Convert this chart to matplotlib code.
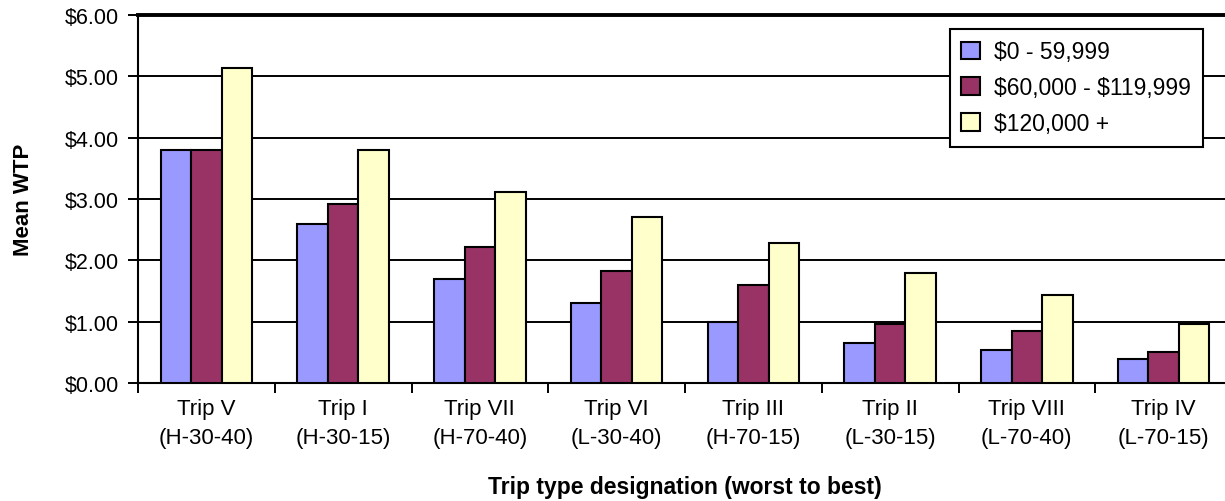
import matplotlib

matplotlib.use("Agg")
import matplotlib.pyplot as plt
import numpy as np
from matplotlib.ticker import FixedLocator, FuncFormatter

plt.rcParams["font.family"] = ["Liberation Sans", "DejaVu Sans"]

trips = ["Trip V", "Trip I", "Trip VII", "Trip VI", "Trip III", "Trip II", "Trip VIII", "Trip IV"]
codes = ["(H-30-40)", "(H-30-15)", "(H-70-40)", "(L-30-40)", "(H-70-15)", "(L-30-15)", "(L-70-40)", "(L-70-15)"]
series = ["$0 - 59,999", "$60,000 - $119,999", "$120,000 +"]
low_income = [3.80, 2.60, 1.70, 1.31, 1.00, 0.66, 0.54, 0.39]
mid_income = [3.80, 2.92, 2.21, 1.82, 1.60, 0.96, 0.85, 0.51]
high_income = [5.13, 3.80, 3.11, 2.71, 2.29, 1.79, 1.44, 0.96]
colors = ["#9999FF", "#993366", "#FFFFCC"]

W, H = 1225, 502
fig = plt.figure(figsize=(W / 100, H / 100), dpi=100)
# axes runs slightly past the right edge of the figure
ax = fig.add_axes([138 / W, (H - 384) / H, (1232 - 138) / W, (384 - 16) / H])

x = np.arange(len(trips))
bw = 0.223
for i, (vals, col, name) in enumerate(zip([low_income, mid_income, high_income], colors, series)):
    ax.bar(x + (i - 1) * bw, vals, width=bw, color=col, edgecolor="black",
           linewidth=1.5, label=name, zorder=3)

ax.set_xlim(-0.5, len(trips) - 0.5)
ax.set_ylim(0, 6)
ax.set_yticks(np.arange(0, 7, 1))
ax.yaxis.set_major_formatter(FuncFormatter(lambda v, _: f"${v:.2f}"))
ax.yaxis.grid(True, color="black", linewidth=1.4, zorder=0)
ax.set_axisbelow(True)
ax.tick_params(axis="y", direction="out", length=7, width=1.4, labelsize=15.5, pad=7)

ax.set_xticks(x)
ax.set_xticklabels([f"{t}\n{c}" for t, c in zip(trips, codes)], fontsize=16, linespacing=1.5)
ax.tick_params(axis="x", which="major", length=0, pad=11)
ax.xaxis.set_minor_locator(FixedLocator(np.arange(-0.5, len(trips), 1)))
ax.tick_params(axis="x", which="minor", direction="out", length=7, width=1.4)

for side in ["left", "bottom", "right"]:
    ax.spines[side].set_linewidth(1.5)
ax.spines["top"].set_linewidth(2.8)

ax.set_ylabel("Mean WTP", fontsize=16, fontweight="bold", labelpad=22)
ax.set_xlabel("Trip type designation (worst to best)", fontsize=16.5, fontweight="bold", labelpad=19)

leg = ax.legend(loc="upper left", bbox_to_anchor=(950 / W, 1 - 30 / H), bbox_transform=fig.transFigure,
                fontsize=16.5, frameon=True, fancybox=False, framealpha=1, borderaxespad=0,
                handlelength=0.82, handleheight=0.82, handletextpad=0.62, labelspacing=0.56,
                borderpad=0.5)
# labels contain literal dollar signs, not mathtext
for t in leg.get_texts():
    t.set_parse_math(False)
leg.get_frame().set_edgecolor("black")
leg.get_frame().set_linewidth(1.5)

fig.savefig("out.png", dpi=100)
